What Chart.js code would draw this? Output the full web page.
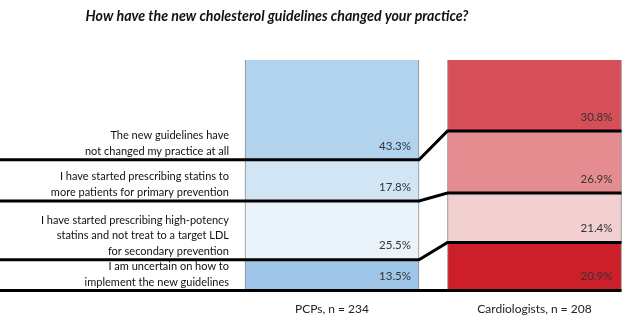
<!DOCTYPE html>
<html>
<head>
<meta charset="utf-8">
<script src="https://cdn.jsdelivr.net/npm/chart.js@4.4.1/dist/chart.umd.min.js"></script>
<style>
  html, body { margin: 0; padding: 0; background: #fff; overflow: hidden; }
  #wrap { width: 628px; height: 323px; position: relative; }
</style>
</head>
<body>
<div id="wrap"><canvas id="practiceChart"></canvas></div>
<script>
const chartTitle = 'How have the new cholesterol guidelines changed your practice?';
const groups = ['PCPs, n = 234', 'Cardiologists, n = 208'];
const answers = [
  ['The new guidelines have', 'not changed my practice at all'],
  ['I have started prescribing statins to', 'more patients for primary prevention'],
  ['I have started prescribing high-potency', 'statins and not treat to a target LDL', 'for secondary prevention'],
  ['I am uncertain on how to', 'implement the new guidelines'],
];
const notChanged = [43.3, 30.8];
const morePrimary = [17.8, 26.9];
const highPotency = [25.5, 21.4];
const uncertain = [13.5, 20.9];

const pcpColors = ['#b2d3ee', '#d2e5f5', '#eaf2fa', '#9fc6e8'];
const cardioColors = ['#d64f58', '#e58c91', '#f2d0d2', '#cc1f2a'];

const series = [notChanged, morePrimary, highPotency, uncertain];

// black separators running from the left edge under each answer,
// across the PCP bar, then angled over to the matching cardiology boundary
const connectors = {
  id: 'connectors',
  afterDatasetsDraw(chart) {
    const { ctx, scales: { y } } = chart;
    const bars = chart.getDatasetMeta(0).data;
    const pcpL = bars[0].x - bars[0].width / 2;
    const pcpR = bars[0].x + bars[0].width / 2;
    const carL = bars[1].x - bars[1].width / 2;
    const carR = bars[1].x + bars[1].width / 2;

    let cumP = 0, cumC = 0;
    ctx.save();
    chart.data.datasets.forEach((ds, i) => {
      cumP += ds.data[0];
      cumC += ds.data[1];
      const yp = y.getPixelForValue(Math.min(cumP, 100));
      const yc = y.getPixelForValue(Math.min(cumC, 100));

      // values
      ctx.font = '11.5px Lato';
      ctx.fillStyle = '#333';
      ctx.textAlign = 'right';
      ctx.textBaseline = 'middle';
      ctx.fillText(ds.data[0].toFixed(1) + '%', pcpR - 8, yp - 14);
      ctx.fillText(ds.data[1].toFixed(1) + '%', carR - 9, yc - 14);

      // answer text, bottom-aligned above its line
      const lines = answers[i];
      ctx.font = '11px Lato';
      ctx.fillStyle = '#111';
      ctx.textBaseline = 'alphabetic';
      lines.forEach((t, k) => {
        ctx.fillText(t, pcpL - 16, yp - 5 - (lines.length - 1 - k) * 15.5);
      });

      ctx.beginPath();
      ctx.moveTo(0, yp);
      ctx.lineTo(pcpR, yp);
      ctx.lineTo(carL, yc);
      ctx.lineTo(carR, yc);
      ctx.lineWidth = 3;
      ctx.strokeStyle = '#000';
      ctx.lineJoin = 'miter';
      ctx.stroke();
    });

    ctx.font = 'italic bold 14.2px Lato';
    ctx.fillStyle = '#111';
    ctx.textAlign = 'center';
    ctx.textBaseline = 'middle';
    ctx.fillText(chartTitle, 277, 16);
    ctx.restore();
  }
};

new Chart(document.getElementById('practiceChart'), {
  type: 'bar',
  data: {
    labels: groups,
    datasets: series.map((values, i) => ({
      label: answers[i].join(' '),
      data: values,
      backgroundColor: [pcpColors[i], cardioColors[i]],
      borderColor: '#8c8c8c',
      borderWidth: 1,
      barThickness: 174,
      clip: false,
    })),
  },
  options: {
    responsive: true,
    maintainAspectRatio: false,
    animation: false,
    layout: {
      padding: { left: 332, right: 93.5, top: 60, bottom: -4 },
    },
    plugins: {
      legend: { display: false },
      tooltip: { enabled: false },
      title: { display: false },
    },
    scales: {
      x: {
        stacked: true,
        offset: false,
        grid: { display: false, drawTicks: false },
        border: { display: false },
        ticks: {
          padding: 11,
          maxRotation: 0,
          autoSkip: false,
          color: '#222',
          font: { family: 'Lato', size: 12 },
        },
      },
      y: {
        display: false,
        stacked: true,
        reverse: true,
        min: 0,
        max: 100,
      },
    },
  },
  plugins: [connectors],
});
</script>
</body>
</html>
